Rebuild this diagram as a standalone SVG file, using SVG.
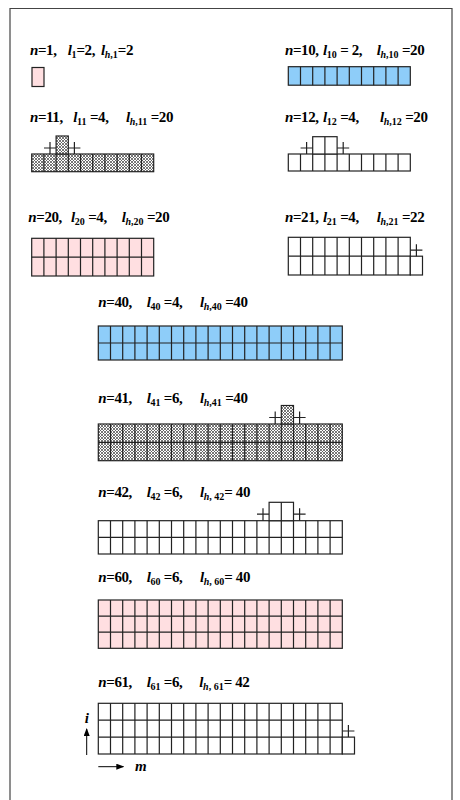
<svg xmlns="http://www.w3.org/2000/svg" width="460" height="800" viewBox="0 0 460 800">
<style>
.t{font-family:"Liberation Serif","Times New Roman",serif;font-size:15px;font-weight:bold;fill:#000;letter-spacing:-0.4px}
.i{font-style:italic}
.s{font-size:10px;letter-spacing:0}
.g{stroke:#222;stroke-width:1.2}
.pink{fill:#ffdfe1}
.blue{fill:#8ecdf9}
.white{fill:#fff}
.hat{fill:url(#hatch)}
.ln{fill:none;stroke:#222;stroke-width:1.2}
.frame{fill:none;stroke:#444;stroke-width:1.2}
.ax{stroke:#000;stroke-width:1}
</style>
<defs>
<pattern id="hatch" width="3" height="3" patternUnits="userSpaceOnUse">
<rect width="3" height="3" fill="#fff"/>
<path d="M0,0 L3,3 M3,0 L0,3" stroke="#555" stroke-width="0.8"/>
</pattern>
<marker id="ah" markerWidth="8" markerHeight="6" refX="7" refY="3" orient="auto" markerUnits="userSpaceOnUse">
<path d="M0,0 L8,3 L0,6 Z" fill="#000"/>
</marker>
</defs>
<rect width="460" height="800" fill="#fff"/>
<path class="frame" d="M10,801 V8.5 H452 V801"/>

<g id="n1">
<text class="t" x="30" y="55"><tspan class="i">n</tspan>=1,<tspan x="67.7" class="i">l</tspan><tspan class="s" dy="3">1</tspan><tspan dy="-3">=2,</tspan><tspan x="101" class="i">l</tspan><tspan class="s" dy="3"><tspan class="i">h</tspan>,1</tspan><tspan dy="-3">=2</tspan></text>
<rect class="g pink" x="32" y="67.5" width="12" height="19"/>
</g>

<g id="n10">
<text class="t" x="285" y="55"><tspan class="i">n</tspan>=10,<tspan x="323" class="i">l</tspan><tspan class="s" dy="3">10</tspan><tspan dy="-3"> = 2,</tspan><tspan x="376.7" class="i">l</tspan><tspan class="s" dy="3"><tspan class="i">h</tspan>,10</tspan><tspan dy="-3"> =20</tspan></text>
<rect class="g blue" x="288.3" y="66.7" width="122" height="18.5"/>
<path class="ln" d="M300.5,66.7V85.2M312.7,66.7V85.2M324.9,66.7V85.2M337.1,66.7V85.2M349.3,66.7V85.2M361.5,66.7V85.2M373.7,66.7V85.2M385.9,66.7V85.2M398.1,66.7V85.2"/>
</g>

<g id="n11">
<text class="t" x="30" y="122.3"><tspan class="i">n</tspan>=11,<tspan x="73.3" class="i">l</tspan><tspan class="s" dy="3">11</tspan><tspan dy="-3"> =4,</tspan><tspan x="126" class="i">l</tspan><tspan class="s" dy="3"><tspan class="i">h</tspan>,11</tspan><tspan dy="-3"> =20</tspan></text>
<rect class="g hat" x="31.7" y="154" width="122" height="17.7"/>
<rect class="g hat" x="56.1" y="136" width="12.2" height="18"/>
<path class="ln" d="M43.9,154V171.7M56.1,154V171.7M68.3,154V171.7M80.5,154V171.7M92.7,154V171.7M104.9,154V171.7M117.1,154V171.7M129.3,154V171.7M141.5,154V171.7"/>
<path class="ln" d="M44,148H56M50,142V154M68.4,148H80.4M74.4,142V154"/>
</g>

<g id="n12">
<text class="t" x="285" y="122"><tspan class="i">n</tspan>=12,<tspan x="323" class="i">l</tspan><tspan class="s" dy="3">12</tspan><tspan dy="-3"> =4,</tspan><tspan x="380" class="i">l</tspan><tspan class="s" dy="3"><tspan class="i">h</tspan>,12</tspan><tspan dy="-3"> =20</tspan></text>
<rect class="g white" x="288.3" y="154" width="122" height="17"/>
<rect class="g white" x="312.7" y="136.7" width="24.4" height="17.3"/>
<path class="ln" d="M324.9,136.7V154M300.5,154V171M312.7,154V171M324.9,154V171M337.1,154V171M349.3,154V171M361.5,154V171M373.7,154V171M385.9,154V171M398.1,154V171"/>
<path class="ln" d="M300.6,148H312.6M306.6,142V154M337.2,148H349.2M343.2,142V154"/>
</g>

<g id="n20">
<text class="t" x="28.3" y="222.3"><tspan class="i">n</tspan>=20,<tspan x="71" class="i">l</tspan><tspan class="s" dy="3">20</tspan><tspan dy="-3"> =4,</tspan><tspan x="121.7" class="i">l</tspan><tspan class="s" dy="3"><tspan class="i">h</tspan>,20</tspan><tspan dy="-3"> =20</tspan></text>
<rect class="g pink" x="31.7" y="238.3" width="122" height="37.7"/>
<path class="ln" d="M31.7,257.2H153.7M43.9,238.3V276M56.1,238.3V276M68.3,238.3V276M80.5,238.3V276M92.7,238.3V276M104.9,238.3V276M117.1,238.3V276M129.3,238.3V276M141.5,238.3V276"/>
</g>

<g id="n21">
<text class="t" x="285" y="222"><tspan class="i">n</tspan>=21,<tspan x="323" class="i">l</tspan><tspan class="s" dy="3">21</tspan><tspan dy="-3"> =4,</tspan><tspan x="376.7" class="i">l</tspan><tspan class="s" dy="3"><tspan class="i">h</tspan>,21</tspan><tspan dy="-3"> =22</tspan></text>
<rect class="g white" x="288.3" y="237.3" width="122" height="37.7"/>
<rect class="g white" x="410.3" y="256.2" width="12.2" height="18.8"/>
<path class="ln" d="M288.3,256.2H410.3M300.5,237.3V275M312.7,237.3V275M324.9,237.3V275M337.1,237.3V275M349.3,237.3V275M361.5,237.3V275M373.7,237.3V275M385.9,237.3V275M398.1,237.3V275"/>
<path class="ln" d="M410.4,250.2H422.4M416.4,244.2V256.2"/>
</g>

<g id="n40">
<text class="t" x="98.3" y="307.3"><tspan class="i">n</tspan>=40,<tspan x="146.7" class="i">l</tspan><tspan class="s" dy="3">40</tspan><tspan dy="-3"> =4,</tspan><tspan x="200" class="i">l</tspan><tspan class="s" dy="3"><tspan class="i">h</tspan>,40</tspan><tspan dy="-3"> =40</tspan></text>
<rect class="g blue" x="98.3" y="326" width="244" height="34"/>
<path class="ln" d="M98.3,343H342.3M110.5,326V360M122.7,326V360M134.9,326V360M147.1,326V360M159.3,326V360M171.5,326V360M183.7,326V360M195.9,326V360M208.1,326V360M220.3,326V360M232.5,326V360M244.7,326V360M256.9,326V360M269.1,326V360M281.3,326V360M293.5,326V360M305.7,326V360M317.9,326V360M330.1,326V360"/>
</g>

<g id="n41">
<text class="t" x="98.3" y="403.3"><tspan class="i">n</tspan>=41,<tspan x="146.7" class="i">l</tspan><tspan class="s" dy="3">41</tspan><tspan dy="-3"> =6,</tspan><tspan x="200" class="i">l</tspan><tspan class="s" dy="3"><tspan class="i">h</tspan>,41</tspan><tspan dy="-3"> =40</tspan></text>
<rect class="g hat" x="98.3" y="424" width="244" height="36.7"/>
<rect class="g hat" x="281.3" y="405.5" width="12.2" height="18.5"/>
<path class="ln" d="M98.3,442.3H342.3M110.5,424V460.7M122.7,424V460.7M134.9,424V460.7M147.1,424V460.7M159.3,424V460.7M171.5,424V460.7M183.7,424V460.7M195.9,424V460.7M208.1,424V460.7M220.3,424V460.7M232.5,424V460.7M244.7,424V460.7M256.9,424V460.7M269.1,424V460.7M281.3,424V460.7M293.5,424V460.7M305.7,424V460.7M317.9,424V460.7M330.1,424V460.7"/>
<path class="ln" d="M269.2,417.5H281.2M275.2,411.5V424M293.6,417.5H305.6M299.6,411.5V424"/>
</g>

<g id="n42">
<text class="t" x="98.3" y="497.3"><tspan class="i">n</tspan>=42,<tspan x="146.7" class="i">l</tspan><tspan class="s" dy="3">42</tspan><tspan dy="-3"> =6,</tspan><tspan x="200" class="i">l</tspan><tspan class="s" dy="3"><tspan class="i">h</tspan>, 42</tspan><tspan dy="-3">= 40</tspan></text>
<rect class="g white" x="98.3" y="520.7" width="244" height="33.3"/>
<rect class="g white" x="269.1" y="502.3" width="24.4" height="18.4"/>
<path class="ln" d="M281.3,502.3V520.7M98.3,537.4H342.3M110.5,520.7V554M122.7,520.7V554M134.9,520.7V554M147.1,520.7V554M159.3,520.7V554M171.5,520.7V554M183.7,520.7V554M195.9,520.7V554M208.1,520.7V554M220.3,520.7V554M232.5,520.7V554M244.7,520.7V554M256.9,520.7V554M269.1,520.7V554M281.3,520.7V554M293.5,520.7V554M305.7,520.7V554M317.9,520.7V554M330.1,520.7V554"/>
<path class="ln" d="M257,514.2H269M263,508.2V520.7M293.6,514.2H305.6M299.6,508.2V520.7"/>
</g>

<g id="n60">
<text class="t" x="98.3" y="582.3"><tspan class="i">n</tspan>=60,<tspan x="146.7" class="i">l</tspan><tspan class="s" dy="3">60</tspan><tspan dy="-3"> =6,</tspan><tspan x="200" class="i">l</tspan><tspan class="s" dy="3"><tspan class="i">h</tspan>, 60</tspan><tspan dy="-3">= 40</tspan></text>
<rect class="g pink" x="98.3" y="600" width="244" height="48.3"/>
<path class="ln" d="M98.3,616.1H342.3M98.3,632.2H342.3M110.5,600V648.3M122.7,600V648.3M134.9,600V648.3M147.1,600V648.3M159.3,600V648.3M171.5,600V648.3M183.7,600V648.3M195.9,600V648.3M208.1,600V648.3M220.3,600V648.3M232.5,600V648.3M244.7,600V648.3M256.9,600V648.3M269.1,600V648.3M281.3,600V648.3M293.5,600V648.3M305.7,600V648.3M317.9,600V648.3M330.1,600V648.3"/>
</g>

<g id="n61">
<text class="t" x="98.3" y="686.7"><tspan class="i">n</tspan>=61,<tspan x="146.7" class="i">l</tspan><tspan class="s" dy="3">61</tspan><tspan dy="-3"> =6,</tspan><tspan x="199.3" class="i">l</tspan><tspan class="s" dy="3"><tspan class="i">h</tspan>, 61</tspan><tspan dy="-3">= 42</tspan></text>
<rect class="g white" x="98.3" y="703.3" width="244" height="50.7"/>
<rect class="g white" x="342.3" y="737.1" width="12.2" height="16.9"/>
<path class="ln" d="M98.3,720.2H342.3M98.3,737.1H342.3M110.5,703.3V754M122.7,703.3V754M134.9,703.3V754M147.1,703.3V754M159.3,703.3V754M171.5,703.3V754M183.7,703.3V754M195.9,703.3V754M208.1,703.3V754M220.3,703.3V754M232.5,703.3V754M244.7,703.3V754M256.9,703.3V754M269.1,703.3V754M281.3,703.3V754M293.5,703.3V754M305.7,703.3V754M317.9,703.3V754M330.1,703.3V754"/>
<path class="ln" d="M342.4,731H354.4M348.4,725V737.1"/>
</g>

<g id="connectors">
<line class="ax" x1="86.7" y1="755" x2="86.7" y2="729" marker-end="url(#ah)"/>
<line class="ax" x1="98.3" y1="766.7" x2="123.3" y2="766.7" marker-end="url(#ah)"/>
<text class="t i" x="86.7" y="723" text-anchor="middle">i</text>
<text class="t i" x="135" y="770.5">m</text>
</g>
</svg>
